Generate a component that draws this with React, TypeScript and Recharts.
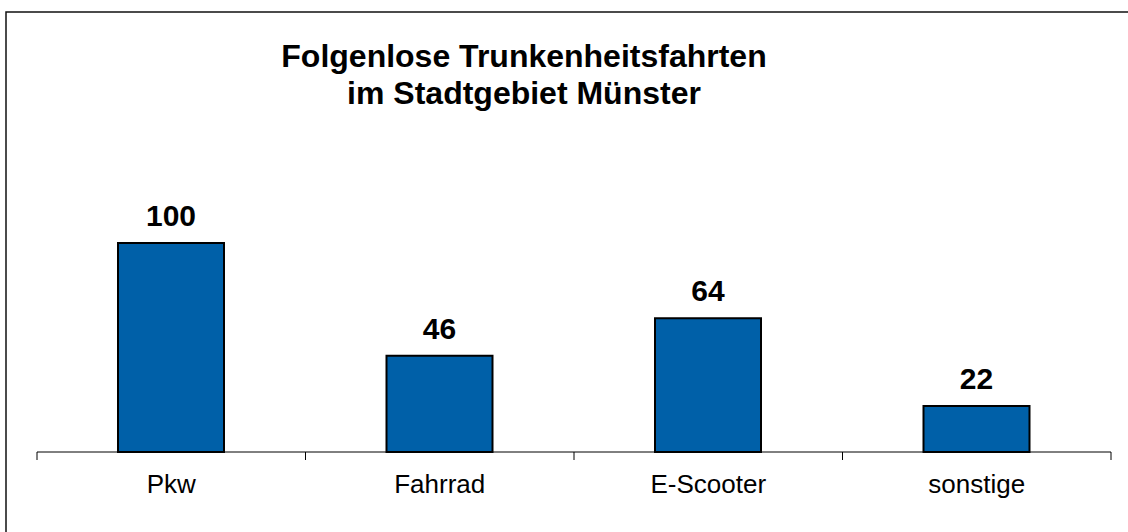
import React from "react";
import { BarChart, Bar, XAxis, YAxis, LabelList } from "recharts";

const categories = ["Pkw", "Fahrrad", "E-Scooter", "sonstige"];
const values = [100, 46, 64, 22];
const titleLines = ["Folgenlose Trunkenheitsfahrten", "im Stadtgebiet Münster"];

const data = categories.map((c, i) => ({ name: c, value: values[i] }));

const W = 1128;
const H = 532;
const M = { top: 243, right: 17, bottom: 40, left: 37 };
const FONT = "'Liberation Sans', Arial, Helvetica, sans-serif";
const bandHalf = (W - M.left - M.right) / categories.length / 2;

const CatTick = (props: any) => {
  const { x, y, payload, index } = props;
  return (
    <g>
      <line x1={x - bandHalf} x2={x - bandHalf} y1={y} y2={y + 8} stroke="#000" strokeWidth={1} />
      {index === categories.length - 1 && (
        <line x1={x + bandHalf} x2={x + bandHalf} y1={y} y2={y + 8} stroke="#000" strokeWidth={1} />
      )}
      <text x={x} y={y + 41} textAnchor="middle" fontFamily={FONT} fontSize={26} fill="#000">
        {payload.value}
      </text>
    </g>
  );
};

const ValueLabel = (props: any) => {
  const { x, y, width, value } = props;
  return (
    <text
      x={Number(x) + Number(width) / 2}
      y={Number(y) - 17}
      textAnchor="middle"
      fontFamily={FONT}
      fontSize={30}
      fontWeight="bold"
      fill="#000"
    >
      {value}
    </text>
  );
};

export default function App() {
  return (
    <div
      style={{
        position: "absolute",
        left: 0,
        top: 0,
        width: W,
        height: H,
        overflow: "hidden",
        background: "#fff",
      }}
    >
      <BarChart width={W} height={H} data={data} margin={M}>
        <YAxis hide domain={[0, 100]} />
        <XAxis
          dataKey="name"
          height={40}
          axisLine={{ stroke: "#000", strokeWidth: 1 }}
          tickLine={false}
          tickSize={0}
          tickMargin={0}
          interval={0}
          tick={<CatTick />}
        />
        <Bar
          dataKey="value"
          barSize={106}
          fill="#0060A8"
          stroke="#000"
          strokeWidth={2}
          isAnimationActive={false}
        >
          <LabelList dataKey="value" content={<ValueLabel />} />
        </Bar>
      </BarChart>
      <svg
        width={W}
        height={H}
        style={{ position: "absolute", left: 0, top: 0, pointerEvents: "none" }}
      >
        <rect x={6} y={12} width={1300} height={700} fill="none" stroke="#111" strokeWidth={1.5} />
        {titleLines.map((t, i) => (
          <text
            key={i}
            x={524}
            y={67 + i * 37}
            textAnchor="middle"
            fontFamily={FONT}
            fontSize={32}
            fontWeight="bold"
            fill="#000"
          >
            {t}
          </text>
        ))}
      </svg>
    </div>
  );
}
